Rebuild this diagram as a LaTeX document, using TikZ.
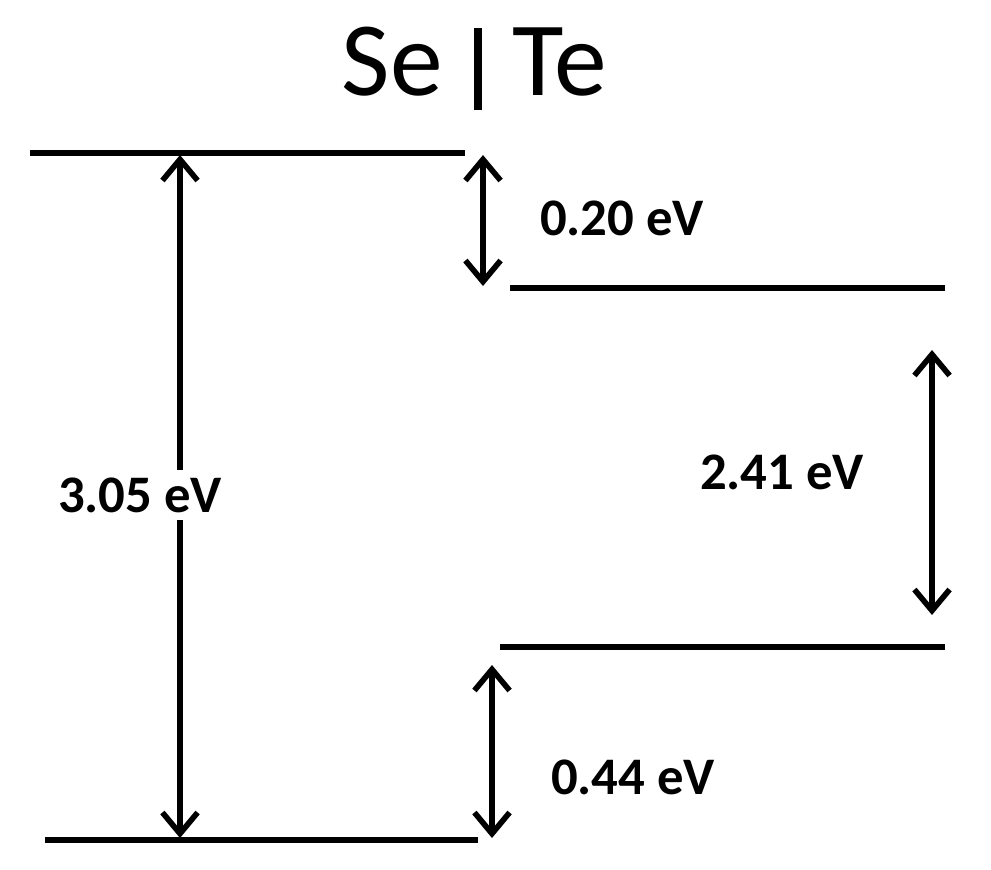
\documentclass[tikz,border=0pt]{standalone}
\usepackage{fontspec}
\setmainfont{Carlito}
\usetikzlibrary{arrows.meta}
\begin{document}
\begin{tikzpicture}[x=0.01cm,y=-0.01cm,
  lvl/.style={line width=1.6pt},
  gap/.style={line width=1.6pt,{Straight Barb[length=6pt,width=10pt,line width=1.6pt]}-{Straight Barb[length=6pt,width=10pt,line width=1.6pt]}},
  ttl/.style={font=\fontsize{30}{33}\selectfont},
  lab/.style={font=\fontsize{15}{18}\selectfont\bfseries,fill=white,inner sep=2pt}]
\useasboundingbox (0,0) rectangle (991,869);
\node[ttl,anchor=east] (se) at (455,62) {Se};
\node[ttl,anchor=west] (te) at (500,62) {Te};
\coordinate (b1) at (478,28); \coordinate (b2) at (478,110);
\draw[line width=2.2pt] (b1) -- (b2);
\coordinate (l1a) at (30,153); \coordinate (l1b) at (465,153);
\coordinate (l2a) at (510,288); \coordinate (l2b) at (945,288);
\coordinate (l3a) at (500,647); \coordinate (l3b) at (945,647);
\coordinate (l4a) at (45,840); \coordinate (l4b) at (478,840);
\draw[lvl] (l1a) -- (l1b);
\draw[lvl] (l2a) -- (l2b);
\draw[lvl] (l3a) -- (l3b);
\draw[lvl] (l4a) -- (l4b);
\coordinate (a1) at (180,155); \coordinate (a2) at (180,838);
\draw[gap] (a1) -- (a2);
\node[lab] (l305) at (140,495) {3.05 eV};
\coordinate (c1) at (483,155); \coordinate (c2) at (483,286);
\draw[gap] (c1) -- (c2);
\node[lab] (l020) at (622,218) {0.20 eV};
\coordinate (d1) at (932,350); \coordinate (d2) at (932,615);
\draw[gap] (d1) -- (d2);
\node[lab] (l241) at (782,472) {2.41 eV};
\coordinate (e1) at (492,665); \coordinate (e2) at (492,838);
\draw[gap] (e1) -- (e2);
\node[lab] (l044) at (633,777) {0.44 eV};
\end{tikzpicture}
\end{document}
